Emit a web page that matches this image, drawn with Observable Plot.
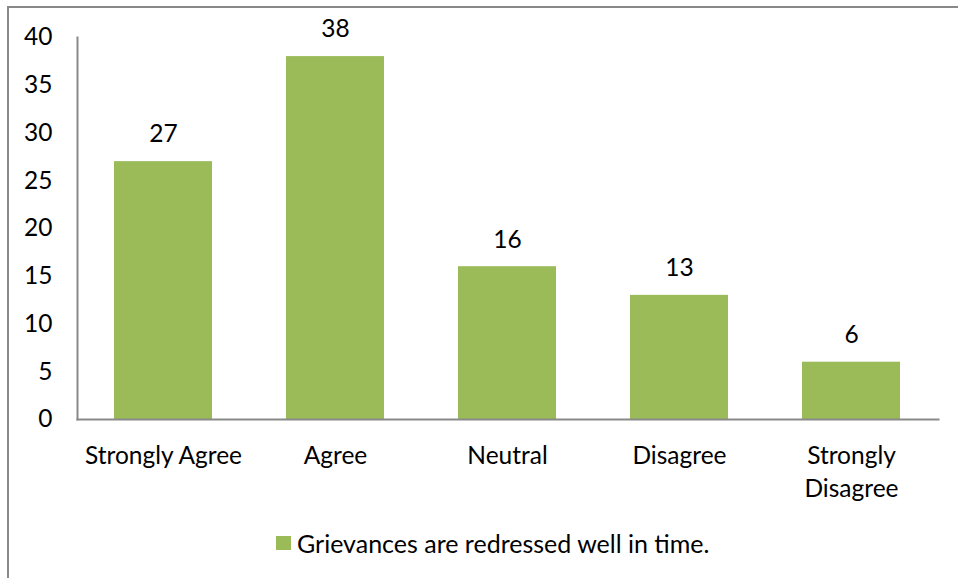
<!DOCTYPE html>
<html>
<head>
<meta charset="utf-8">
<script src="https://cdn.jsdelivr.net/npm/d3@7"></script>
<script src="https://cdn.jsdelivr.net/npm/@observablehq/plot@0.6"></script>
<style>
  html, body { margin: 0; padding: 0; background: #fff; }
  #wrap { position: relative; width: 958px; height: 578px; overflow: hidden; font-family: Lato, "Open Sans", sans-serif; }
  #frame { position: absolute; left: 7px; top: 6px; width: 1000px; height: 1000px; border-left: 2px solid #898989; border-top: 2px solid #898989; box-sizing: border-box; }
  #chart { position: absolute; left: 0; top: 0; }
  #legend { position: absolute; left: 276px; top: 528px; display: flex; align-items: center; font-size: 25px; color: #000; line-height: 30px; }
  #legend .sw { width: 15px; height: 14px; background: #9BBB59; margin-right: 6px; }
</style>
</head>
<body>
<div id="wrap">
  <div id="frame"></div>
  <div id="chart"></div>
  <div id="legend"><span class="sw"></span><span id="legtext"></span></div>
</div>
<script>
const categories = ["Strongly Agree", "Agree", "Neutral", "Disagree", "Strongly Disagree"];
const tickLabels = ["Strongly Agree", "Agree", "Neutral", "Disagree", "Strongly\nDisagree"];
const values = [27, 38, 16, 13, 6];
const yTicks = [0, 5, 10, 15, 20, 25, 30, 35, 40];
const seriesName = "Grievances are redressed well in time.";
const barColor = "#9BBB59";

const data = categories.map((c, i) => ({category: c, value: values[i]}));

const FS = 24.5;
const chart = Plot.plot({
  width: 958,
  height: 510,
  marginLeft: 77,
  marginRight: 20,
  marginTop: 37,
  marginBottom: 91,
  style: { fontFamily: "Lato, 'Open Sans', sans-serif", fontSize: FS + "px", color: "#000", background: "transparent", overflow: "visible" },
  x: { domain: categories, paddingInner: 0.43, paddingOuter: 0.215, label: null },
  y: { domain: [0, 40], label: null },
  marks: [
    Plot.barY(data, { x: "category", y: "value", fill: barColor }),
    Plot.text(data, { x: "category", y: "value", text: d => String(d.value), dy: -27, fontSize: FS, fill: "#000" }),
    Plot.axisY({ ticks: yTicks, tickSize: 0, tickPadding: 25, fontSize: FS, label: null }),
    Plot.axisX({ tickSize: 0, tickPadding: 21, fontSize: FS, label: null, lineAnchor: "top", lineHeight: 1.35,
      tickFormat: (d) => tickLabels[categories.indexOf(d)] }),
    Plot.frame({ anchor: "left", stroke: "#898989", strokeWidth: 2, strokeOpacity: 1 }),
    Plot.frame({ anchor: "bottom", stroke: "#898989", strokeWidth: 2, strokeOpacity: 1 })
  ]
});
document.getElementById("chart").appendChild(chart);
document.getElementById("legtext").textContent = seriesName;
</script>
</body>
</html>
